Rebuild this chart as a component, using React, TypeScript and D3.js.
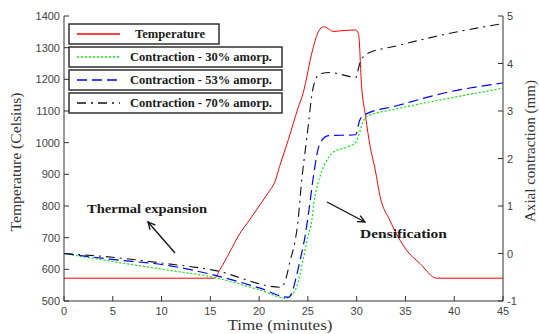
import React from 'react';
import * as d3 from 'd3';

// temperature profile (left axis, Celsius)
const tempTime = [0, 15.4, 16, 17, 18, 19, 20, 21, 21.6, 22.1, 23, 24, 24.5, 25.5, 26.1, 26.6, 27.1, 27.6, 28.3, 29.9, 30.2, 30.5, 30.9, 31.4, 31.9, 32.4, 33.4, 35.1, 36.5, 38.2, 45];
const tempValues = [572, 572, 600, 655, 712, 755, 800, 845, 875, 925, 1010, 1110, 1155, 1295, 1352, 1366, 1360, 1351, 1353, 1356, 1342, 1180, 1085, 985, 915, 830, 755, 661, 618, 572, 572];

// axial contraction (right axis, mm)
const c30Time = [0, 5, 11, 15.3, 20.1, 22.8, 23.3, 23.85, 24.5, 25.0, 25.4, 25.6, 26.0, 26.6, 27.6, 29.0, 29.9, 30.3, 30.6, 31.0, 34, 39, 45];
const c30Values = [0, -0.17, -0.36, -0.5, -0.77, -0.94, -0.88, -0.7, -0.14, 0.35, 0.7, 1.05, 1.45, 1.82, 2.13, 2.24, 2.34, 2.55, 2.75, 2.88, 3.04, 3.25, 3.48];

const c53Time = [0, 4.7, 10.9, 15.3, 20.1, 23.0, 23.4, 23.8, 24.2, 24.7, 25.1, 25.55, 26.2, 27.1, 29.9, 30.3, 30.8, 34.1, 39.2, 45];
const c53Values = [0, -0.12, -0.26, -0.45, -0.73, -0.92, -0.8, -0.5, -0.14, 0.35, 0.9, 1.6, 2.3, 2.48, 2.5, 2.8, 2.92, 3.11, 3.39, 3.59];

const c70Time = [0, 5, 10, 15.3, 22.3, 22.65, 23.2, 23.7, 24.0, 24.3, 24.9, 25.55, 26.2, 27.3, 29.0, 29.9, 30.3, 31.0, 34.1, 39.2, 45];
const c70Values = [0, -0.08, -0.2, -0.35, -0.71, -0.59, -0.14, 0.28, 0.7, 1.4, 2.45, 3.5, 3.78, 3.81, 3.74, 3.7, 3.99, 4.2, 4.37, 4.62, 4.84];

const xTicks = [0, 5, 10, 15, 20, 25, 30, 35, 40, 45];
const leftTicks = [500, 600, 700, 800, 900, 1000, 1100, 1200, 1300, 1400];
const rightTicks = [-1, 0, 1, 2, 3, 4, 5];

const legendLabels = ['Temperature', 'Contraction - 30% amorp.', 'Contraction - 53% amorp.', 'Contraction - 70% amorp.'];

const W = 539, H = 334;
const x = d3.scaleLinear().domain([0, 45]).range([64, 503]);
const yL = d3.scaleLinear().domain([500, 1400]).range([301, 16]);
const yR = d3.scaleLinear().domain([-1, 5]).range([301, 16]);

const zip = (t: number[], v: number[]) => t.map((d, i) => [d, v[i]] as [number, number]);

const series = [
  { pts: zip(tempTime, tempValues), y: yL, color: '#ff0000', dash: '', w: 1 },
  { pts: zip(c30Time, c30Values), y: yR, color: '#00ee00', dash: '2,2', w: 1.2 },
  { pts: zip(c53Time, c53Values), y: yR, color: '#0000ff', dash: '10,5', w: 1.2 },
  { pts: zip(c70Time, c70Values), y: yR, color: '#111111', dash: '9,5,2,5', w: 1.1 },
];

const serif = '"Liberation Serif", "Times New Roman", serif';
const sans = '"Liberation Sans", Arial, sans-serif';

const legendBoxes = [
  { x: 69, y: 24, w: 150, h: 20, tx: 135, tl: 70 },
  { x: 69, y: 47, w: 213, h: 20, tx: 130, tl: 142 },
  { x: 69, y: 70, w: 213, h: 20, tx: 130, tl: 142 },
  { x: 69, y: 93, w: 213, h: 20, tx: 130, tl: 142 },
];

const Arrow = ({ x1, y1, x2, y2 }: { x1: number; y1: number; x2: number; y2: number }) => {
  const a = Math.atan2(y2 - y1, x2 - x1);
  const L = 8, s = 0.45;
  const p1 = [x2 - L * Math.cos(a - s), y2 - L * Math.sin(a - s)];
  const p2 = [x2 - L * Math.cos(a + s), y2 - L * Math.sin(a + s)];
  return (
    <g stroke="#111" strokeWidth={1.3} fill="none">
      <line x1={x1} y1={y1} x2={x2} y2={y2} />
      <polyline points={`${p1[0]},${p1[1]} ${x2},${y2} ${p2[0]},${p2[1]}`} />
    </g>
  );
};

export default function App() {
  return (
    <svg width={W} height={H} style={{ position: 'absolute', left: 0, top: 0, background: '#fff' }}>
      <rect width={W} height={H} fill="#fff" />
      {/* series */}
      {series.map((s, i) => {
        const line = d3.line<[number, number]>().x(d => x(d[0])).y(d => s.y(d[1])).curve(d3.curveMonotoneX);
        return <path key={i} d={line(s.pts) || ''} fill="none" stroke={s.color} strokeWidth={s.w} strokeDasharray={s.dash || undefined} />;
      })}

      {/* axes */}
      <g stroke="#333" strokeWidth={1} fill="none">
        <line x1={x(0)} y1={yL(1400)} x2={x(0)} y2={yL(500)} />
        <line x1={x(45)} y1={yR(5)} x2={x(45)} y2={yR(-1)} />
        <line x1={x(0)} y1={yL(500)} x2={x(45)} y2={yL(500)} />
        {xTicks.map(t => <line key={'xt' + t} x1={x(t)} x2={x(t)} y1={301} y2={296} />)}
        {leftTicks.map(t => <line key={'lt' + t} x1={x(0)} x2={x(0) + 5} y1={yL(t)} y2={yL(t)} />)}
        {rightTicks.map(t => <line key={'rt' + t} x1={x(45)} x2={x(45) - 5} y1={yR(t)} y2={yR(t)} />)}
      </g>
      <g fontFamily={sans} fontSize={11} fill="#444">
        {xTicks.map(t => <text key={'xl' + t} x={x(t)} y={315} textAnchor="middle">{t}</text>)}
        {leftTicks.map(t => <text key={'ll' + t} x={60} y={yL(t) + 4} textAnchor="end">{t}</text>)}
        {rightTicks.map(t => <text key={'rl' + t} x={507} y={yR(t) + 4}>{t}</text>)}
      </g>
      <g fontFamily={serif} fontSize={14} fill="#333">
        <text x={280} y={330} textAnchor="middle" textLength={105} lengthAdjust="spacingAndGlyphs">Time (minutes)</text>
        <text transform="translate(21,162) rotate(-90)" textAnchor="middle" textLength={139} lengthAdjust="spacingAndGlyphs">Temperature (Celsius)</text>
        <text transform="translate(535,151) rotate(-90)" textAnchor="middle" textLength={142} lengthAdjust="spacingAndGlyphs">Axial contraction (mm)</text>
      </g>

      {/* legend */}
      {legendBoxes.map((b, i) => (
        <g key={'lg' + i}>
          <rect x={b.x} y={b.y} width={b.w} height={b.h} fill="#fff" stroke="#222" strokeWidth={1.4} />
          <line x1={77} x2={120} y1={b.y + b.h / 2} y2={b.y + b.h / 2} stroke={series[i].color} strokeWidth={1.4} strokeDasharray={series[i].dash || undefined} />
          <text x={b.tx} y={b.y + b.h / 2 + 4} fontFamily={serif} fontWeight="bold" fontSize={11.5} fill="#1a1a1a" textLength={b.tl} lengthAdjust="spacingAndGlyphs">{legendLabels[i]}</text>
        </g>
      ))}

      {/* annotations */}
      <text x={87} y={213} fontFamily={serif} fontWeight="bold" fontSize={12.5} fill="#1a1a1a" textLength={120} lengthAdjust="spacingAndGlyphs">Thermal expansion</text>
      <Arrow x1={175} y1={253} x2={148} y2={222} />
      <text x={360} y={238} fontFamily={serif} fontWeight="bold" fontSize={12.5} fill="#1a1a1a" textLength={87} lengthAdjust="spacingAndGlyphs">Densification</text>
      <Arrow x1={327} y1={202} x2={365} y2={222} />
    </svg>
  );
}
